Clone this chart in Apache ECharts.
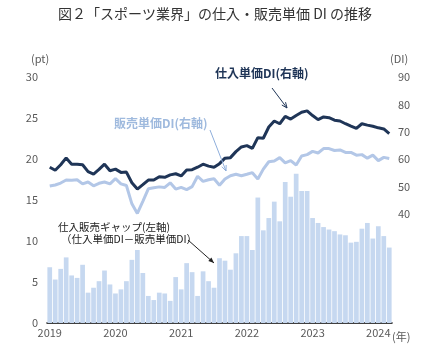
<!DOCTYPE html>
<html><head><meta charset="utf-8">
<script src="https://cdn.jsdelivr.net/npm/echarts@6/dist/echarts.min.js"></script>
<style>html,body{margin:0;padding:0;background:#fff}#c{width:430px;height:357px}</style>
</head><body><div id="c"></div>
<script>
// Monthly, Jan 2019 - Mar 2024
const startYear = 2019, monthCount = 63;
const categories = [];
for (let i = 0; i < monthCount; i++) {
  const y = startYear + Math.floor(i / 12), m = (i % 12) + 1;
  categories.push(y + '-' + (m < 10 ? '0' + m : m));
}
// 仕入販売ギャップ (pt, left axis)
const gapValues = [
  6.8,5.3,6.6,8.0,5.8,5.5,7.1,3.7,4.3,5.1,6.4,4.7,
  3.6,4.1,5.1,7.7,8.9,6.1,3.3,2.8,3.7,3.6,2.7,5.6,
  4.1,7.3,6.2,3.3,6.3,5.1,4.3,7.9,7.6,6.5,8.5,10.6,
  10.6,8.9,15.3,11.3,12.8,14.8,12.4,17.2,15.4,18.2,16.1,16.1,
  12.8,12.2,11.7,11.4,11.2,10.8,10.7,9.8,9.9,11.5,12.2,10.3,
  11.8,10.6,9.2
];
// 仕入単価DI (right axis)
const purchaseDI = [
  57.0,55.9,57.9,60.4,58.1,58.1,57.9,55.4,54.5,56.2,58.1,55.7,
  56.3,55.1,55.2,51.3,49.0,50.6,52.3,52.3,53.5,53.3,54.2,54.6,
  53.8,56.0,56.1,57.0,58.1,57.4,57.0,58.3,60.3,60.5,62.7,64.4,
  64.9,63.9,67.8,67.6,71.7,73.9,72.9,75.6,74.6,75.9,77.1,77.6,
  75.9,74.4,75.4,75.1,74.2,73.9,72.9,72.0,71.2,72.9,72.4,72.0,
  71.4,71.0,69.3
];
// 販売単価DI (right axis)
const sellingDI = [
  50.1,50.5,51.2,52.3,52.2,52.4,50.9,51.6,50.2,51.1,51.6,50.9,
  52.8,50.9,50.3,43.6,40.1,44.5,49.1,49.5,49.8,49.6,51.3,49.0,
  49.6,48.8,49.9,53.7,51.8,52.4,52.8,50.4,52.7,53.9,54.4,53.9,
  54.4,55.0,52.7,56.3,59.0,59.3,60.5,58.6,59.4,57.8,61.1,61.6,
  62.8,62.2,63.8,63.8,63.1,63.3,62.4,62.4,61.4,61.6,60.3,61.4,
  59.4,60.6,60.2
];

const FONT = '"Noto Sans CJK JP", "Noto Sans", sans-serif';
const NAVY = '#1f3557', LIGHT = '#b3c7e7', BAR = '#c6d8f0';

function arrow(x1, y1, x2, y2, color, size, filled) {
  const a = Math.atan2(y2 - y1, x2 - x1);
  const p1 = [x2 - size * Math.cos(a - 0.4), y2 - size * Math.sin(a - 0.4)];
  const p2 = [x2 - size * Math.cos(a + 0.4), y2 - size * Math.sin(a + 0.4)];
  const els = [{ type: 'line', shape: { x1, y1, x2, y2 }, style: { stroke: color, lineWidth: 1 }, z: 10 }];
  if (filled) {
    els.push({ type: 'polygon', shape: { points: [[x2, y2], p1, p2] }, style: { fill: color }, z: 10 });
  } else {
    els.push({ type: 'polyline', shape: { points: [p1, [x2, y2], p2] }, style: { stroke: color, lineWidth: 1, fill: null }, z: 10 });
  }
  return els;
}

const chart = echarts.init(document.getElementById('c'));
chart.setOption({
  animation: false,
  textStyle: { fontFamily: FONT },
  grid: { left: 47, right: 38, top: 77, bottom: 34 },
  xAxis: {
    type: 'category', data: categories,
    axisLine: { lineStyle: { color: '#000', width: 1.5 } },
    axisTick: { show: false },
    axisLabel: { interval: 11, color: '#595959', fontSize: 11, margin: 4, formatter: v => v.slice(0, 4) }
  },
  yAxis: [
    { type: 'value', min: 0, max: 30, interval: 5, splitLine: { show: false },
      axisLine: { show: false }, axisTick: { show: false },
      axisLabel: { color: '#595959', fontSize: 11, margin: 9 } },
    { type: 'value', min: 0, max: 90, interval: 10, splitLine: { show: false },
      axisLine: { show: false }, axisTick: { show: false },
      axisLabel: { color: '#595959', fontSize: 11, margin: 6, formatter: v => v >= 40 ? String(v) : '' } }
  ],
  series: [
    { type: 'bar', yAxisIndex: 0, data: gapValues, barCategoryGap: '14%',
      itemStyle: { color: BAR }, z: 1 },
    { type: 'line', yAxisIndex: 1, data: sellingDI, symbol: 'none',
      lineStyle: { color: LIGHT, width: 3 }, z: 3 },
    { type: 'line', yAxisIndex: 1, data: purchaseDI, symbol: 'none',
      lineStyle: { color: NAVY, width: 3 }, z: 4 }
  ],
  graphic: [
    { type: 'text', left: 'center', top: 7, style: { text: '図２「スポーツ業界」の仕入・販売単価 DI の推移', fontSize: 14, fill: '#333', fontFamily: FONT } },
    { type: 'text', x: 31, y: 53, style: { text: '(pt)', fontSize: 11, fill: '#595959', fontFamily: FONT } },
    { type: 'text', x: 390, y: 53, style: { text: '(DI)', fontSize: 11, fill: '#595959', fontFamily: FONT } },
    { type: 'text', x: 392, y: 331, style: { text: '(年)', fontSize: 11, fill: '#595959', fontFamily: FONT } },
    { type: 'text', x: 215, y: 67, style: { text: '仕入単価DI(右軸)', fontSize: 12, fontWeight: 'bold', fill: NAVY, fontFamily: FONT } },
    { type: 'text', x: 114, y: 117, style: { text: '販売単価DI(右軸)', fontSize: 12, fontWeight: 'bold', fill: '#9fbade', fontFamily: FONT } },
    { type: 'text', x: 58, y: 222, style: { text: '仕入販売ギャップ(左軸)', fontSize: 10.5, fill: '#222', fontFamily: FONT } },
    { type: 'text', x: 61, y: 234, style: { text: '（仕入単価DI－販売単価DI）', fontSize: 10.5, fill: '#222', fontFamily: FONT } },
    ...arrow(272, 88, 287, 108, NAVY, 6, false),
    ...arrow(210, 130, 226, 171, '#8eaedb', 6, false),
    ...arrow(188, 240, 214, 263, '#222', 6, true)
  ]
});
</script></body></html>
